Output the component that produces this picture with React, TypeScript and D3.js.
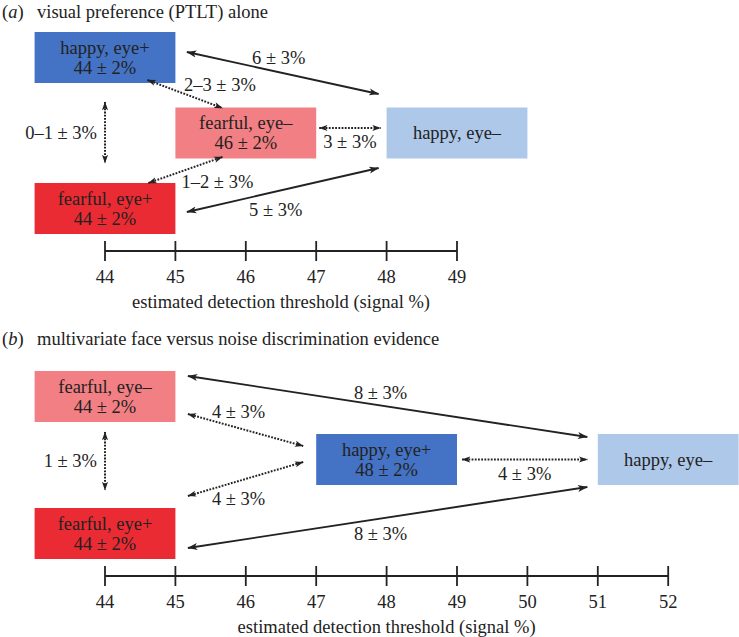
import React from "react";
import * as d3 from "d3";

// ---------- data ----------
const aTitleLetter = "a";
const aTitleText = "visual preference (PTLT) alone";
const aCategories = ["happy, eye+", "fearful, eye–", "happy, eye–", "fearful, eye+"];
const aThresholds = [44, 46, 49, 44];
const aThresholdLabels = ["44 ± 2%", "46 ± 2%", "", "44 ± 2%"];
const aEdgeFrom = [0, 0, 0, 1, 3, 3];
const aEdgeTo = [2, 1, 3, 2, 1, 2];
const aEdgeLabels = ["6 ± 3%", "2–3 ± 3%", "0–1 ± 3%", "3 ± 3%", "1–2 ± 3%", "5 ± 3%"];
const aEdgeDotted = [false, true, true, true, true, false];
const aTicks = [44, 45, 46, 47, 48, 49];

const bTitleLetter = "b";
const bTitleText = "multivariate face versus noise discrimination evidence";
const bCategories = ["fearful, eye–", "happy, eye+", "happy, eye–", "fearful, eye+"];
const bThresholds = [44, 48, 52, 44];
const bThresholdLabels = ["44 ± 2%", "48 ± 2%", "", "44 ± 2%"];
const bEdgeFrom = [0, 0, 0, 3, 1, 3];
const bEdgeTo = [2, 1, 3, 1, 2, 2];
const bEdgeLabels = ["8 ± 3%", "4 ± 3%", "1 ± 3%", "4 ± 3%", "4 ± 3%", "8 ± 3%"];
const bEdgeDotted = [false, true, true, true, true, false];
const bTicks = [44, 45, 46, 47, 48, 49, 50, 51, 52];

const axisTitle = "estimated detection threshold (signal %)";

// ---------- styles / layout ----------
const FONT = "'Liberation Serif', 'Times New Roman', serif";
const FS = 18.5;
const INK = "#222";
const colorOf: Record<string, string> = {
  "happy, eye+": "#4472C4",
  "fearful, eye–": "#F27F83",
  "happy, eye–": "#AEC8E9",
  "fearful, eye+": "#EA2B33",
};

type Anchor = [number, number, number, number]; // ax, dx, ay, dy
interface PanelLayout {
  titleY: number;
  rowTop: number[];
  boxH: number;
  axisY: number;
  anchors: [Anchor, Anchor][];
  labelOff: [number, number, string][];
}

const aLayout: PanelLayout = {
  titleY: 18,
  rowTop: [32, 107.5, 107.5, 183],
  boxH: 51,
  axisY: 251,
  anchors: [
    [[1, 11.5, 0, 20], [0, -8, 0, -13.5]],
    [[1, -28, 1, -3], [0, 47, 0, 0.5]],
    [[0.5, 0, 1, 19], [0.5, 0, 0, -20]],
    [[1, 3, 0.5, -5], [0, -6, 0.5, -5]],
    [[1, -27, 0, 0], [0, 47, 1, -1.5]],
    [[1, 11.5, 0, 29], [0, -8, 1, 9.5]],
  ],
  labelOff: [
    [-4, -15, "middle"],
    [35, -9, "middle"],
    [-8, 0, "end"],
    [0, 14, "middle"],
    [32, 12, "middle"],
    [-7, 20, "middle"],
  ],
};

const bLayout: PanelLayout = {
  titleY: 345,
  rowTop: [371, 434, 434, 508],
  boxH: 51,
  axisY: 576,
  anchors: [
    [[1, 12.5, 0, 5], [0, -10.5, 0, 3]],
    [[1, 12.5, 1, -8], [0, -13, 0, 12]],
    [[0.5, 0, 1, 10], [0.5, 0, 0, -18]],
    [[1, 12.5, 0, -12], [0, -13, 0, 28]],
    [[1, 5, 0.5, 0], [0, -10.5, 0.5, 0]],
    [[1, 12.5, 0, 40], [0, -10.5, 1, 2]],
  ],
  labelOff: [
    [-7, -14, "middle"],
    [-7, -18, "middle"],
    [-8, 0, "end"],
    [-7, 20, "middle"],
    [0, 14, "middle"],
    [-7, 16, "middle"],
  ],
};

interface PanelProps {
  letter: string;
  title: string;
  cats: string[];
  thr: number[];
  thrLabels: string[];
  from: number[];
  to: number[];
  labels: string[];
  dotted: boolean[];
  ticks: number[];
  layout: PanelLayout;
}

function Panel(p: PanelProps) {
  const x = d3
    .scaleLinear()
    .domain([p.ticks[0], p.ticks[p.ticks.length - 1]])
    .range([105, 105 + 70.4 * (p.ticks[p.ticks.length - 1] - p.ticks[0])]);
  const L = p.layout;
  const boxes = p.cats.map((c, i) => {
    const x0 = x(p.thr[i] - 1);
    const x1 = x(p.thr[i] + 1);
    return { x0, w: x1 - x0, y0: L.rowTop[i], h: L.boxH };
  });
  const pt = (bi: number, a: Anchor) => {
    const b = boxes[bi];
    return [b.x0 + a[0] * b.w + a[1], b.y0 + a[2] * b.h + a[3]];
  };
  const axisX0 = x(p.ticks[0]);
  const axisX1 = x(p.ticks[p.ticks.length - 1]);
  return (
    <g fontFamily={FONT} fontSize={FS} fill={INK}>
      <text x={2} y={L.titleY}>
        (<tspan fontStyle="italic">{p.letter}</tspan>)
      </text>
      <text x={37} y={L.titleY}>{p.title}</text>
      {boxes.map((b, i) => (
        <g key={"b" + i}>
          <rect x={b.x0} y={b.y0} width={b.w} height={b.h} fill={colorOf[p.cats[i]]} />
          {p.thrLabels[i] ? (
            <>
              <text x={b.x0 + b.w / 2} y={b.y0 + b.h / 2 - 10} textAnchor="middle" dominantBaseline="central">
                {p.cats[i]}
              </text>
              <text x={b.x0 + b.w / 2} y={b.y0 + b.h / 2 + 10} textAnchor="middle" dominantBaseline="central">
                {p.thrLabels[i]}
              </text>
            </>
          ) : (
            <text x={b.x0 + b.w / 2} y={b.y0 + b.h / 2} textAnchor="middle" dominantBaseline="central">
              {p.cats[i]}
            </text>
          )}
        </g>
      ))}
      {p.from.map((f, i) => {
        const [sx, sy] = pt(f, L.anchors[i][0]);
        const [ex, ey] = pt(p.to[i], L.anchors[i][1]);
        const mx = (sx + ex) / 2;
        const my = (sy + ey) / 2;
        const off = L.labelOff[i];
        const mk = p.dotted[i] ? "url(#ahd)" : "url(#ah)";
        return (
          <g key={"e" + i}>
            <line
              x1={sx}
              y1={sy}
              x2={ex}
              y2={ey}
              stroke={INK}
              strokeWidth={p.dotted[i] ? 2 : 1.9}
              strokeDasharray={p.dotted[i] ? "1.8 1.4" : undefined}
              markerStart={mk}
              markerEnd={mk}
            />
            <text
              x={mx + off[0]}
              y={my + off[1]}
              textAnchor={off[2] as any}
              dominantBaseline="central"
            >
              {p.labels[i]}
            </text>
          </g>
        );
      })}
      <line x1={axisX0} x2={axisX1} y1={L.axisY} y2={L.axisY} stroke={INK} strokeWidth={1.8} />
      {p.ticks.map((t) => (
        <g key={"t" + t}>
          <line x1={x(t)} x2={x(t)} y1={L.axisY - 10} y2={L.axisY + 10} stroke={INK} strokeWidth={1.8} />
          <text x={x(t)} y={L.axisY + 26} textAnchor="middle" dominantBaseline="central">
            {t}
          </text>
        </g>
      ))}
      <text x={(axisX0 + x(49)) / 2 + (p.ticks.length > 6 ? 105.6 : 0)} y={L.axisY + 51} textAnchor="middle" dominantBaseline="central">
        {axisTitle}
      </text>
    </g>
  );
}

export default function App() {
  return (
    <svg
      width={739}
      height={637}
      style={{ position: "absolute", left: 0, top: 0, background: "#fff" }}
    >
      <defs>
        <marker id="ah" viewBox="0 0 10 8" refX={9.5} refY={4} markerWidth={10} markerHeight={8} markerUnits="userSpaceOnUse" orient="auto-start-reverse">
          <path d="M0,0.5 L10,4 L0,7.5 L2.5,4 Z" fill={INK} />
        </marker>
        <marker id="ahd" viewBox="0 0 10 8" refX={9.5} refY={4} markerWidth={9} markerHeight={7} markerUnits="userSpaceOnUse" orient="auto-start-reverse">
          <path d="M0,0.5 L10,4 L0,7.5 L2.5,4 Z" fill={INK} />
        </marker>
      </defs>
      <Panel
        letter={aTitleLetter}
        title={aTitleText}
        cats={aCategories}
        thr={aThresholds}
        thrLabels={aThresholdLabels}
        from={aEdgeFrom}
        to={aEdgeTo}
        labels={aEdgeLabels}
        dotted={aEdgeDotted}
        ticks={aTicks}
        layout={aLayout}
      />
      <Panel
        letter={bTitleLetter}
        title={bTitleText}
        cats={bCategories}
        thr={bThresholds}
        thrLabels={bThresholdLabels}
        from={bEdgeFrom}
        to={bEdgeTo}
        labels={bEdgeLabels}
        dotted={bEdgeDotted}
        ticks={bTicks}
        layout={bLayout}
      />
    </svg>
  );
}
